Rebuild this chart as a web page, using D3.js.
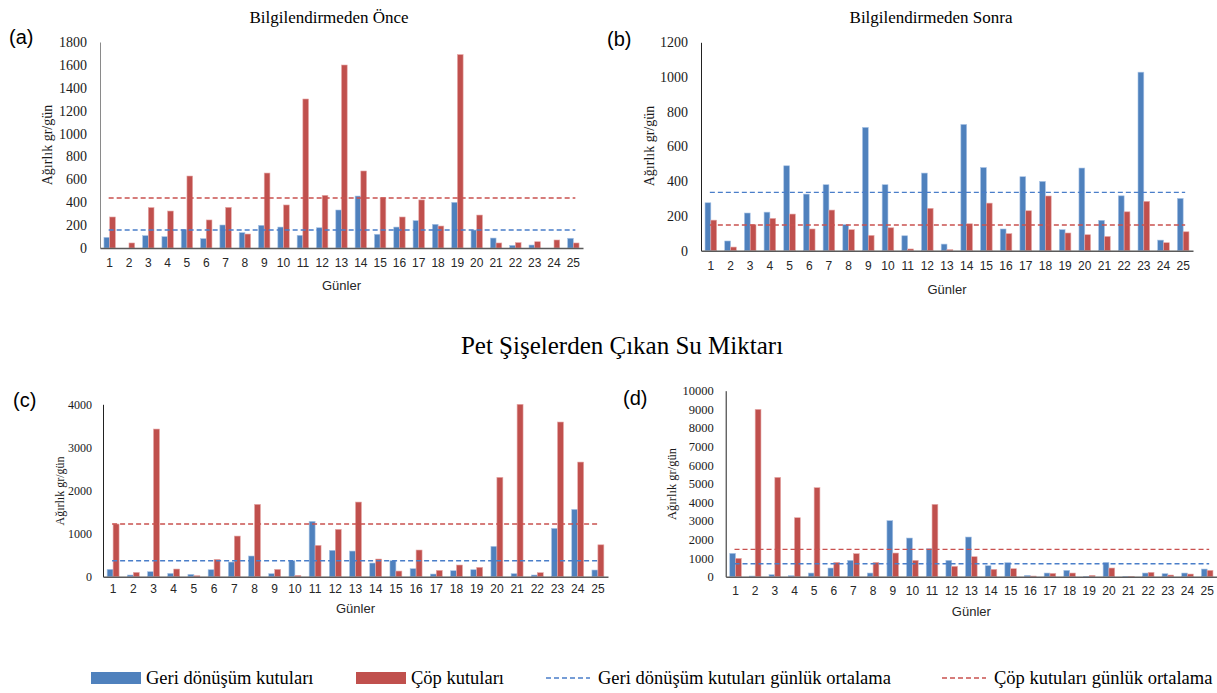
<!DOCTYPE html>
<html><head><meta charset="utf-8">
<script src="https://cdn.jsdelivr.net/npm/d3@7"></script>
<style>body{margin:0;background:#fff;} svg{display:block;}</style>
</head><body>
<svg id="chart" width="1217" height="693"></svg>
<script>
// ---- data ----
const days = d3.range(1, 26).map(String);
const seriesNames = ["Geri dönüşüm kutuları", "Çöp kutuları"];
const meanNames = ["Geri dönüşüm kutuları günlük ortalama", "Çöp kutuları günlük ortalama"];

const aGeri = [93,0,108,99,163,82,201,134,198,183,111,177,332,454,120,183,239,207,399,157,87,23,26,0,85];
const aCop  = [271,44,353,323,629,245,355,122,655,376,1302,460,1599,673,440,271,420,192,1690,288,44,47,55,70,44];
const aMean = [157, 437];

const bGeri = [276,56,217,222,489,326,380,150,710,380,86,447,38,727,479,125,426,399,121,476,175,316,1028,61,301];
const bCop  = [176,21,150,186,211,125,234,121,88,132,10,244,6,155,274,98,230,315,102,92,82,224,284,46,109];
const bMean = [336, 148];

const cGeri = [170,39,116,77,54,162,340,480,70,371,1284,611,595,317,371,186,62,139,162,704,70,39,1121,1562,155];
const cCop  = [1222,100,3426,178,23,402,943,1678,170,31,727,1098,1732,410,131,619,147,271,217,2305,4000,93,3589,2660,740];
const cMean = [371, 1222];

const dGeri = [1254,36,108,54,197,466,878,197,3011,2079,1505,878,2133,591,753,72,197,341,18,771,18,197,161,197,412];
const dCop  = [986,8996,5340,3172,4785,771,1237,771,1272,878,3889,556,1075,394,430,36,179,197,72,466,18,233,90,143,341];
const dMean = [700, 1470];

const yTicksA = [0,200,400,600,800,1000,1200,1400,1600,1800];
const yTicksB = [0,200,400,600,800,1000,1200];
const yTicksC = [0,1000,2000,3000,4000];
const yTicksD = [0,1000,2000,3000,4000,5000,6000,7000,8000,9000,10000];

const titleA = "Bilgilendirmeden Önce";
const titleB = "Bilgilendirmeden Sonra";
const mainTitle = "Pet Şişelerden Çıkan Su Miktarı";
const yLabel = "Ağırlık gr/gün";
const xLabel = "Günler";

// ---- style ----
const BLUE = "#4F81BD", RED = "#C0504D";
const BLUE_D = "#4A7EC9", RED_D = "#C9514F";
const SERIF = "'Liberation Serif', 'Times New Roman', serif";
const SANS = "'Liberation Sans', Arial, sans-serif";

const svg = d3.select("#chart");

function panel(cfg) {
  const g = svg.append("g");
  const x = d3.scaleBand().domain(days).range([cfg.x0, cfg.x1]).paddingInner(0.41).paddingOuter(0.205);
  const xs = d3.scaleBand().domain([0, 1]).range([0, x.bandwidth()]);
  const y = d3.scaleLinear().domain([0, cfg.max]).range([cfg.yBase, cfg.yTop]);

  // bars
  const rows = days.map((d, i) => ({day: d, vals: [cfg.geri[i], cfg.cop[i]]}));
  const grp = g.selectAll("g.day").data(rows).join("g").attr("transform", d => `translate(${x(d.day)},0)`);
  grp.selectAll("rect").data(d => d.vals.map((v, k) => ({v, k}))).join("rect")
    .attr("x", d => xs(d.k))
    .attr("width", xs.bandwidth())
    .attr("y", d => y(d.v))
    .attr("height", d => y(0) - y(d.v))
    .attr("fill", d => d.k === 0 ? BLUE : RED)
    .attr("stroke", d => d.k === 0 ? "#a9c4e6" : "#e6a9a8")
    .attr("stroke-width", 0.6);

  // mean lines
  const xa = x(days[0]) + x.bandwidth() / 2 - 1;
  const xb = x(days[days.length - 1]) + x.bandwidth() / 2 + 2;
  cfg.mean.forEach((m, k) => {
    g.append("line").attr("x1", xa).attr("x2", xb).attr("y1", y(m)).attr("y2", y(m))
      .attr("stroke", k === 0 ? BLUE_D : RED_D).attr("stroke-width", 1.4)
      .attr("stroke-dasharray", "5,3");
  });

  // y axis
  const ya = d3.axisLeft(y).tickValues(cfg.ticks).tickSize(0).tickPadding(cfg.tickPad).tickFormat(d3.format("d"));
  const yg = g.append("g").attr("transform", `translate(${cfg.x0},0)`).call(ya);
  yg.select(".domain").attr("stroke", cfg.yAxisColor).attr("stroke-width", 1);
  yg.selectAll("text").attr("font-family", SERIF).attr("font-size", cfg.yFont).attr("fill", "#1a1a1a");

  // x axis
  const xa2 = d3.axisBottom(x).tickSize(0).tickPadding(cfg.xPad);
  const xg = g.append("g").attr("transform", `translate(0,${cfg.yBase})`).call(xa2);
  xg.select(".domain").attr("stroke", "#5a5a5a").attr("stroke-width", 1.6);
  xg.selectAll("text").attr("font-family", SANS).attr("font-size", 12).attr("fill", "#262626");

  // labels
  g.append("text").attr("transform", `translate(${cfg.x0 - cfg.yLabOff},${cfg.yLabY}) rotate(-90)`)
    .attr("text-anchor", "middle").attr("dominant-baseline", "central")
    .attr("font-family", SERIF).attr("font-size", cfg.yLabFont).attr("fill", "#1a1a1a").text(yLabel);
  g.append("text").attr("x", (cfg.x0 + cfg.x1) / 2).attr("y", cfg.xLabY)
    .attr("text-anchor", "middle").attr("dominant-baseline", "central")
    .attr("font-family", SANS).attr("font-size", 13).attr("fill", "#262626").text(xLabel);
  g.append("text").attr("x", cfg.letterX).attr("y", cfg.letterY)
    .attr("dominant-baseline", "central")
    .attr("font-family", SANS).attr("font-size", 20).attr("fill", "#000").text(cfg.letter);
  if (cfg.title) {
    g.append("text").attr("x", cfg.titleX).attr("y", 17)
      .attr("text-anchor", "middle").attr("dominant-baseline", "central")
      .attr("font-family", SERIF).attr("font-size", 17).attr("fill", "#000").text(cfg.title);
  }
}

panel({geri: aGeri, cop: aCop, mean: aMean, ticks: yTicksA, max: 1800,
  x0: 100, x1: 583, yTop: 42, yBase: 248, tickPad: 13, yFont: 14, xPad: 10,
  yAxisColor: "#8a8a8a", yLabOff: 53, yLabY: 145, yLabFont: 14, xLabY: 285,
  letter: "(a)", letterX: 9, letterY: 37, title: titleA, titleX: 329});
panel({geri: bGeri, cop: bCop, mean: bMean, ticks: yTicksB, max: 1200,
  x0: 701, x1: 1193, yTop: 42.3, yBase: 250.7, tickPad: 13, yFont: 14, xPad: 11,
  yAxisColor: "#222", yLabOff: 52, yLabY: 146, yLabFont: 14, xLabY: 289,
  letter: "(b)", letterX: 607, letterY: 39, title: titleB, titleX: 931});
panel({geri: cGeri, cop: cCop, mean: cMean, ticks: yTicksC, max: 4000,
  x0: 103, x1: 608, yTop: 404.3, yBase: 576.7, tickPad: 11, yFont: 12, xPad: 8,
  yAxisColor: "#222", yLabOff: 43, yLabY: 491, yLabFont: 12, xLabY: 608,
  letter: "(c)", letterX: 13, letterY: 400});
panel({geri: dGeri, cop: dCop, mean: dMean, ticks: yTicksD, max: 10000,
  x0: 725.7, x1: 1217, yTop: 390.7, yBase: 576.7, tickPad: 12, yFont: 12.5, xPad: 10,
  yAxisColor: "#222", yLabOff: 54, yLabY: 484, yLabFont: 12.5, xLabY: 611,
  letter: "(d)", letterX: 623, letterY: 398});

// main middle title
svg.append("text").attr("x", 622).attr("y", 345).attr("text-anchor", "middle").attr("dominant-baseline", "central")
  .attr("font-family", SERIF).attr("font-size", 25).attr("fill", "#000").text(mainTitle);

// legend
const LY = 678;
const leg = svg.append("g");
[{x: 91, k: 0}, {x: 356, k: 1}].forEach((it, i) => {
  leg.append("rect").attr("x", it.x).attr("y", LY - 6).attr("width", 50).attr("height", 12)
    .attr("fill", it.k === 0 ? BLUE : RED);
  leg.append("text").attr("x", it.x + 55).attr("y", LY).attr("dominant-baseline", "central")
    .attr("font-family", SERIF).attr("font-size", 18.5).attr("fill", "#000").text(seriesNames[i]);
});
[{x: 546, k: 0}, {x: 942, k: 1}].forEach((it, i) => {
  leg.append("line").attr("x1", it.x).attr("x2", it.x + 44).attr("y1", LY).attr("y2", LY)
    .attr("stroke", it.k === 0 ? BLUE_D : RED_D).attr("stroke-width", 1.6).attr("stroke-dasharray", "5,3");
  leg.append("text").attr("x", it.x + 52).attr("y", LY).attr("dominant-baseline", "central")
    .attr("font-family", SERIF).attr("font-size", 18.5).attr("fill", "#000").text(meanNames[i]);
});
</script>
</body></html>
